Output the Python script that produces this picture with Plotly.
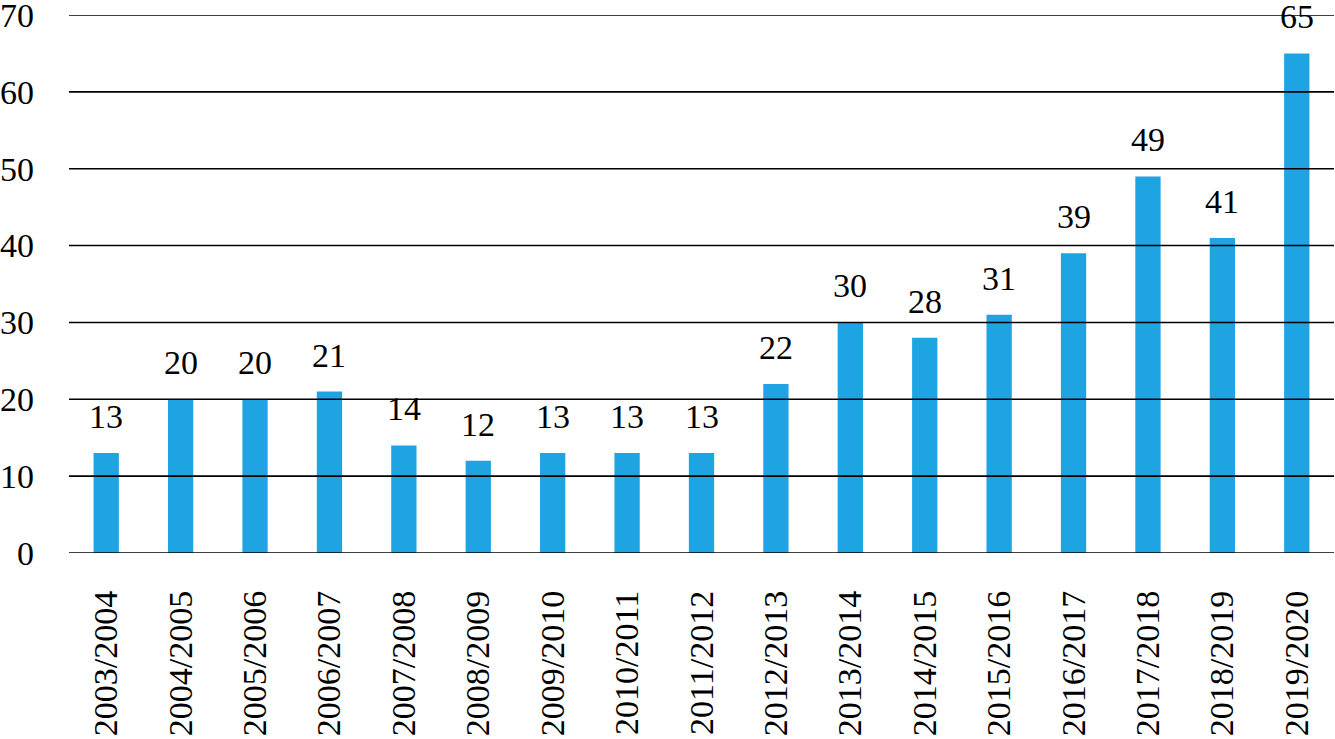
import plotly.graph_objects as go

seasons = ["2003/2004", "2004/2005", "2005/2006", "2006/2007", "2007/2008", "2008/2009",
           "2009/2010", "2010/2011", "2011/2012", "2012/2013", "2013/2014", "2014/2015",
           "2015/2016", "2016/2017", "2017/2018", "2018/2019", "2019/2020"]
values = [13, 20, 20, 21, 14, 12, 13, 13, 13, 22, 30, 28, 31, 39, 49, 41, 65]
y_ticks = [0, 10, 20, 30, 40, 50, 60, 70]

FONT = "Liberation Serif, Times New Roman, serif"
FS = 34
BAR = "#1EA4E2"

fig = go.Figure()
fig.add_trace(go.Bar(x=seasons, y=values, marker=dict(color=BAR, line=dict(width=0)),
                     hoverinfo="x+y"))

for s, v in zip(seasons, values):
    fig.add_annotation(x=s, y=v, text=str(v), showarrow=False, yanchor="bottom",
                       yshift=16, font=dict(family=FONT, size=FS, color="black"))

for t in y_ticks:
    fig.add_shape(type="line", xref="paper", x0=0, x1=1, yref="y", y0=t, y1=t,
                  layer="above", line=dict(color="black", width=1.6))

fig.update_layout(
    width=1335, height=739,
    margin=dict(l=69, r=1, t=15, b=186, autoexpand=False),
    paper_bgcolor="white", plot_bgcolor="white",
    bargap=0.66, showlegend=False,
    font=dict(family=FONT, size=FS, color="black"),
)
fig.update_xaxes(type="category", tickangle=-90, showgrid=False, showline=False,
                 ticks="", ticklabelstandoff=30, automargin=False,
                 tickfont=dict(family=FONT, size=FS))
fig.update_yaxes(range=[0, 70], tickvals=y_ticks, showgrid=False, zeroline=False,
                 showline=False, ticks="", ticklabelstandoff=34, automargin=False,
                 ticklabeloverflow="allow",
                 tickfont=dict(family=FONT, size=FS))

fig.write_html("out.html", config={"displayModeBar": False},
               post_script="document.body.style.margin='0';document.body.style.padding='0';")
